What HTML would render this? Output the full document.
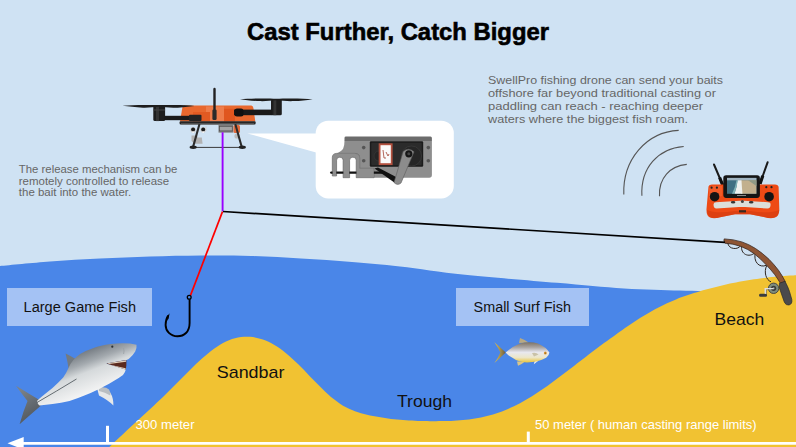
<!DOCTYPE html>
<html><head><meta charset="utf-8">
<style>
html,body{margin:0;padding:0;}
body{width:796px;height:447px;overflow:hidden;background:#cfe2f3;position:relative;font-family:"Liberation Sans",sans-serif;}
svg{position:absolute;left:0;top:0;}
</style></head><body>
<svg width="796" height="447" viewBox="0 0 796 447">
<!-- WATER -->
<path d="M-2.0,266.3 C-1.7,266.3 -8.7,266.9 0.0,266.1 C8.7,265.3 33.3,262.9 50.0,261.6 C66.7,260.4 83.3,259.4 100.0,258.6 C116.7,257.8 133.2,257.1 150.0,256.6 C166.8,256.1 184.2,255.7 201.0,255.6 C217.8,255.5 234.3,255.5 251.0,256.0 C267.7,256.5 284.2,257.6 301.0,258.6 C317.8,259.6 335.5,260.7 352.0,262.0 C368.5,263.3 381.2,264.4 400.0,266.5 C418.8,268.6 438.8,272.1 465.0,274.8 C491.2,277.5 530.5,280.5 557.0,282.8 C583.5,285.1 603.5,287.2 624.0,288.5 C644.5,289.8 664.0,290.1 680.0,290.6 C696.0,291.1 713.3,291.3 720.0,291.4 L800,291.4 L800,450 L-2,450 Z" fill="#4a86e8"/>
<!-- SAND -->
<path d="M106.0,450.2 C107.0,449.3 110.0,446.3 112.0,444.4 C114.0,442.5 116.0,440.6 118.0,438.8 C120.0,436.9 122.0,435.0 124.0,433.2 C126.0,431.3 128.0,429.5 130.0,427.6 C132.0,425.8 134.0,424.0 136.0,422.1 C138.0,420.3 140.0,418.5 142.0,416.6 C144.0,414.8 146.0,413.0 148.0,411.1 C150.0,409.2 152.0,407.4 154.0,405.5 C156.0,403.6 158.0,401.7 160.0,399.8 C162.0,397.9 164.0,396.0 166.0,394.0 C168.0,392.1 170.0,390.1 172.0,388.1 C174.0,386.1 176.0,384.0 178.0,382.0 C180.0,379.9 182.0,377.9 184.0,375.9 C186.0,373.9 188.0,371.8 190.0,369.9 C192.0,367.9 194.0,365.9 196.0,364.0 C198.0,362.1 200.0,360.3 202.0,358.5 C204.0,356.7 206.0,355.0 208.0,353.4 C210.0,351.8 212.0,350.2 214.0,348.8 C216.0,347.4 218.0,346.0 220.0,344.8 C222.0,343.6 224.0,342.5 226.0,341.6 C228.0,340.6 230.0,339.8 232.0,339.1 C234.0,338.5 236.0,337.9 238.0,337.5 C240.0,337.1 242.0,336.9 244.0,336.8 C246.0,336.7 248.0,336.7 250.0,336.8 C252.0,337.0 254.0,337.2 256.0,337.7 C258.0,338.1 260.0,338.6 262.0,339.3 C264.0,339.9 266.0,340.7 268.0,341.6 C270.0,342.6 272.0,343.6 274.0,344.8 C276.0,345.9 278.0,347.2 280.0,348.6 C282.0,350.0 284.0,351.5 286.0,353.2 C288.0,354.8 290.0,356.6 292.0,358.4 C294.0,360.2 296.0,362.1 298.0,364.1 C300.0,366.1 302.0,368.1 304.0,370.1 C306.0,372.2 308.0,374.3 310.0,376.4 C312.0,378.4 314.0,380.5 316.0,382.5 C318.0,384.6 320.0,386.6 322.0,388.5 C324.0,390.5 326.0,392.4 328.0,394.2 C330.0,396.0 332.0,397.7 334.0,399.3 C336.0,400.9 338.0,402.4 340.0,403.7 C342.0,405.0 344.0,406.2 346.0,407.3 C348.0,408.3 350.0,409.2 352.0,410.1 C354.0,410.9 356.0,411.6 358.0,412.3 C360.0,412.9 362.0,413.5 364.0,414.0 C366.0,414.5 368.0,415.0 370.0,415.4 C372.0,415.8 374.0,416.2 376.0,416.6 C378.0,417.0 380.0,417.3 382.0,417.6 C384.0,418.0 386.0,418.2 388.0,418.5 C390.0,418.8 392.0,419.0 394.0,419.2 C396.0,419.4 398.0,419.6 400.0,419.8 C402.0,420.0 404.0,420.1 406.0,420.3 C408.0,420.4 410.0,420.5 412.0,420.6 C414.0,420.7 416.0,420.8 418.0,420.9 C420.0,421.0 422.0,421.0 424.0,421.1 C426.0,421.1 428.0,421.1 430.0,421.2 C432.0,421.2 434.0,421.2 436.0,421.2 C438.0,421.2 440.0,421.2 442.0,421.1 C444.0,421.1 446.0,421.1 448.0,421.0 C450.0,420.9 452.0,420.8 454.0,420.7 C456.0,420.6 458.0,420.5 460.0,420.3 C462.0,420.1 464.0,419.9 466.0,419.7 C468.0,419.5 470.0,419.2 472.0,418.9 C474.0,418.6 476.0,418.3 478.0,417.9 C480.0,417.6 482.0,417.2 484.0,416.7 C486.0,416.2 488.0,415.8 490.0,415.2 C492.0,414.7 494.0,414.1 496.0,413.4 C498.0,412.8 500.0,412.1 502.0,411.4 C504.0,410.6 506.0,409.8 508.0,409.0 C510.0,408.1 512.0,407.2 514.0,406.3 C516.0,405.3 518.0,404.3 520.0,403.2 C522.0,402.1 524.0,401.0 526.0,399.8 C528.0,398.6 530.0,397.4 532.0,396.2 C534.0,394.9 536.0,393.6 538.0,392.3 C540.0,391.0 542.0,389.6 544.0,388.2 C546.0,386.8 548.0,385.4 550.0,383.9 C552.0,382.5 554.0,381.0 556.0,379.6 C558.0,378.1 560.0,376.6 562.0,375.1 C564.0,373.5 566.0,372.0 568.0,370.5 C570.0,368.9 572.0,367.4 574.0,365.9 C576.0,364.3 578.0,362.8 580.0,361.3 C582.0,359.7 584.0,358.2 586.0,356.7 C588.0,355.1 590.0,353.6 592.0,352.1 C594.0,350.6 596.0,349.1 598.0,347.6 C600.0,346.1 602.0,344.6 604.0,343.1 C606.0,341.7 608.0,340.2 610.0,338.7 C612.0,337.3 614.0,335.8 616.0,334.4 C618.0,333.0 620.0,331.6 622.0,330.2 C624.0,328.8 626.0,327.4 628.0,326.0 C630.0,324.7 632.0,323.3 634.0,322.0 C636.0,320.7 638.0,319.4 640.0,318.1 C642.0,316.8 644.0,315.6 646.0,314.4 C648.0,313.2 650.0,312.0 652.0,310.9 C654.0,309.8 656.0,308.7 658.0,307.7 C660.0,306.6 662.0,305.6 664.0,304.7 C666.0,303.7 668.0,302.8 670.0,301.9 C672.0,301.1 674.0,300.2 676.0,299.4 C678.0,298.6 680.0,297.8 682.0,297.1 C684.0,296.4 686.0,295.7 688.0,295.0 C690.0,294.3 692.0,293.6 694.0,293.0 C696.0,292.4 698.0,291.8 700.0,291.2 C702.0,290.6 704.0,290.0 706.0,289.5 C708.0,288.9 710.0,288.4 712.0,287.9 C714.0,287.4 716.0,286.9 718.0,286.4 C720.0,285.9 722.0,285.4 724.0,285.0 C726.0,284.5 728.0,284.1 730.0,283.6 C732.0,283.2 734.0,282.8 736.0,282.4 C738.0,282.0 740.0,281.6 742.0,281.3 C744.0,280.9 746.0,280.6 748.0,280.2 C750.0,279.9 752.0,279.6 754.0,279.3 C756.0,279.0 758.0,278.7 760.0,278.4 C762.0,278.2 764.0,277.9 766.0,277.7 C768.0,277.4 770.0,277.2 772.0,277.0 C774.0,276.8 776.0,276.6 778.0,276.5 C780.0,276.3 782.0,276.1 784.0,276.0 C786.0,275.8 788.0,275.7 790.0,275.6 C792.0,275.5 795.0,275.4 796.0,275.3 L800,450 L106,450 Z" fill="#f1c232"/>
<!-- LABEL BOXES -->
<rect x="7" y="288" width="145" height="38" fill="#a4c2f4"/>
<rect x="456" y="288" width="133" height="38" fill="#a4c2f4"/>
<!-- TEXT -->
<g font-family="Liberation Sans, sans-serif">
<text x="247" y="40.2" font-size="24.5" font-weight="bold" fill="#000" stroke="#000" stroke-width="0.6" textLength="302" lengthAdjust="spacingAndGlyphs">Cast Further, Catch Bigger</text>
<g fill="#666" font-size="10.3">
<text x="18.8" y="173.0" textLength="158.5" lengthAdjust="spacingAndGlyphs">The release mechanism can be</text>
<text x="18.8" y="184.6" textLength="150.4" lengthAdjust="spacingAndGlyphs">remotely controlled to release</text>
<text x="18.8" y="196.3" textLength="112.4" lengthAdjust="spacingAndGlyphs">the bait into the water.</text>
</g>
<g fill="#666" font-size="11.8">
<text x="488" y="84.1" textLength="235" lengthAdjust="spacingAndGlyphs">SwellPro fishing drone can send your baits</text>
<text x="488" y="96.8" textLength="228" lengthAdjust="spacingAndGlyphs">offshore far beyond traditional casting or</text>
<text x="488" y="109.6" textLength="215.1" lengthAdjust="spacingAndGlyphs">paddling can reach - reaching deeper</text>
<text x="488" y="123.3" textLength="200" lengthAdjust="spacingAndGlyphs">waters where the biggest fish roam.</text>
</g>
<g fill="#111" font-size="14">
<text x="23.6" y="312.2" textLength="112.4" lengthAdjust="spacingAndGlyphs">Large Game Fish</text>
<text x="473.6" y="312" textLength="97.4" lengthAdjust="spacingAndGlyphs">Small Surf Fish</text>
</g>
<g fill="#111" font-size="16.4">
<text x="216.8" y="378" textLength="67.6" lengthAdjust="spacingAndGlyphs">Sandbar</text>
<text x="397" y="406.7" textLength="55" lengthAdjust="spacingAndGlyphs">Trough</text>
<text x="714.6" y="324.7" textLength="49.6" lengthAdjust="spacingAndGlyphs">Beach</text>
</g>
<g fill="#fff" font-size="12.6">
<text x="135.5" y="429.3" textLength="59" lengthAdjust="spacingAndGlyphs">300 meter</text>
<text x="535" y="429.3" textLength="221.7" lengthAdjust="spacingAndGlyphs">50 meter ( human casting range limits)</text>
</g>
</g>
<!-- DISTANCE ARROW -->
<line x1="20" y1="443.4" x2="800" y2="443.4" stroke="#fff" stroke-width="2.6"/>
<polygon points="7.5,443.3 23.7,437 23.7,449.6" fill="#fff"/>
<rect x="106" y="425.8" width="3" height="17" fill="#fff"/>
<rect x="526.8" y="431.6" width="3" height="12" fill="#fff"/>
<!-- SIGNAL ARCS -->
<g fill="none" stroke="#555" stroke-width="1.1">
<path d="M623.8,194.6 C622.5,160 646,132 678.7,130.4"/>
<path d="M641.9,195.7 C640.5,168 658,148.5 683.7,146.5"/>
<path d="M659.5,196.2 C658.5,178 670,166 686.8,164.4"/>
</g>
<!-- CONTROLLER -->
<g id="ctrl">
<line x1="714" y1="164.5" x2="722.5" y2="184.5" stroke="#1a1a1a" stroke-width="2" stroke-linecap="round"/>
<line x1="719.6" y1="177.5" x2="722.6" y2="185" stroke="#111" stroke-width="3.2"/>
<line x1="767.6" y1="162.3" x2="760.2" y2="183" stroke="#1a1a1a" stroke-width="2" stroke-linecap="round"/>
<line x1="762.8" y1="175.8" x2="760" y2="184" stroke="#111" stroke-width="3.2"/>
<path d="M708.5,186.5 Q709,184.4 712,184.4 L725,184.4 L759,184.4 L775,184.4 Q778.3,184.4 778.6,187 L779.3,209 Q779.5,216 775,217.6 Q770.5,219 765,217.2 L750,214.2 L735,214.2 L720,217.2 Q714.5,219 710,217.6 Q706.2,216 706.5,209 Z" fill="#ee4a15"/>
<path d="M707,210 Q707.5,216 711,217.6 Q715,218.8 720,217.2 L735,214.2 L750,214.2 L765,217.2 Q770.5,218.8 774.5,217.6 Q778.8,216 779.2,210 Q770,214 750,211 L735,211 Q716,214 707,210 Z" fill="#d63c10" opacity="0.7"/>
<path d="M709,188 L712,186 L722,186 L722,196 L709,200 Z" fill="#f46a3a" opacity="0.5"/>
<rect x="723.3" y="175.2" width="36.6" height="22.7" rx="2.8" fill="#151515"/>
<rect x="727" y="177.9" width="29.4" height="15.9" fill="#3f6f82"/>
<rect x="727" y="177.9" width="29.4" height="2.4" fill="#9fb3c0"/>
<path d="M740.5,180.3 L756.4,180.3 L756.4,193.8 L741,193.8 Q741,187 740.5,180.3 Z" fill="#c2b08e"/>
<path d="M748,180.3 L756.4,180.3 L756.4,186 Q752,183 748,180.3 Z" fill="#8f9a86"/>
<path d="M737.5,180.3 L741.5,180.3 Q741.8,187 742.5,193.8 L734.5,193.8 Q737,187 737.5,180.3 Z" fill="#eef0ee"/>
<path d="M736.5,180.3 L737.8,180.3 Q737,187 734.5,193.8 L732,193.8 Q735.5,187 736.5,180.3 Z" fill="#7fb0b5"/>
<rect x="737" y="195" width="9" height="1" fill="#888"/>
<path d="M713.5,204.5 Q713.5,202.2 716,202.2 L740,200.8 L744,200.8 L768,202.2 Q770.6,202.2 770.6,204.5 Q770.6,208.6 767.5,208.6 L745,207 L739,207 L716.5,208.6 Q713.5,208.6 713.5,204.5 Z" fill="#dcdfda"/>
<circle cx="714.6" cy="196.7" r="4.8" fill="#141414"/>
<circle cx="769.1" cy="196.7" r="4.8" fill="#141414"/>
<ellipse cx="733.1" cy="202.2" rx="2.3" ry="1.2" fill="#333"/>
<ellipse cx="751.2" cy="202.2" rx="2.3" ry="1.2" fill="#333"/>
<circle cx="742.4" cy="201.6" r="1.5" fill="#444"/>
<circle cx="711.6" cy="187.7" r="1.1" fill="#222"/>
<circle cx="716.9" cy="187.7" r="1.1" fill="#222"/>
<circle cx="766.3" cy="187.2" r="1.1" fill="#222"/>
<circle cx="771.5" cy="187.2" r="1.1" fill="#222"/>
<rect x="739" y="210.2" width="7" height="2.2" fill="#3a2a20"/>
</g>
<!-- ROD -->
<g id="rod">
<g fill="none" stroke="#2e2622" stroke-width="1">
<path d="M727.7,242.8 C728.5,249.8 738.5,250 740.8,245.4"/>
<path d="M741.8,245.6 C740,254 749,258.5 755.3,252.4"/>
<path d="M755.4,252.5 C753,261.5 759,268.5 766.6,265.2"/>
<path d="M766.8,265.4 C763.5,272 766,280 771,281.8"/>
</g>
<path d="M724.2,238.9 Q733,239.2 741.8,241.9 Q749,244.3 755.5,248.5 Q762.8,253.3 769,259.3 Q774.5,265 778.5,270.3 Q782.5,276 785.3,281.6 L780.6,283.6 Q777.8,278.8 774.8,274.7 Q771,269.8 766.4,265 Q760.5,258.5 753.8,253.4 Q748,249 740.8,246.4 Q733,243.6 725,243.2 Q723.3,241 724.2,238.9 Z" fill="#8e5534" stroke="#3a2a22" stroke-width="0.8"/>
<path d="M779.4,283.2 L785,281.3 Q788,287 789.5,291.5 L791.8,299.5 Q792.5,304 789,305 Q785.8,305.7 784.3,302 L779.4,288 Z" fill="#4a4a4c" stroke="#2a2a2a" stroke-width="0.7"/>
<path d="M773.6,288.6 L765.4,288.6 L765.4,293.8" fill="none" stroke="#ddd" stroke-width="1.3"/>
<path d="M773.6,289.6 L766.4,289.6 L766.4,293.8" fill="none" stroke="#666" stroke-width="0.7"/>
<rect x="759.1" y="293.8" width="7.9" height="3" rx="1.3" fill="#3c3c3c"/>
<circle cx="773.6" cy="288.3" r="5.2" fill="#7d8b7a" stroke="#3e3e3e" stroke-width="0.9"/>
<circle cx="773.6" cy="288.3" r="2.6" fill="#3a3a3a"/>
<circle cx="773.6" cy="288.3" r="1" fill="#8a9a90"/>
<path d="M773.6,288.6 L765.4,288.6 L765.4,293.8" fill="none" stroke="#ddd" stroke-width="1.3"/>
</g>
<!-- CALLOUT -->
<g id="callout">
<rect x="315.7" y="120.7" width="138.1" height="77.7" rx="12.5" fill="#fff"/>
<polygon points="247.4,133.4 317,133.4 317,152.8" fill="#fff"/>
<!-- plate -->
<path d="M344.5,140.8 L431.9,140.8 L431.9,175 Q431.9,177.7 429.2,177.7 L374.1,177.7 L374.1,168.3 L359.7,168.3 L359.7,158 Q359.5,154.5 355,153.6 L336,153.4 Q341.5,151.8 343.2,148.5 Q344.5,146 344.5,140.8 Z" fill="#8e8e8e"/>
<path d="M344.5,137.8 Q344.5,136.5 346,136.5 L430.5,136.5 Q431.9,136.5 431.9,138 L431.9,141 L344.5,141 Z" fill="#6c6c6c"/>
<!-- fork -->
<path d="M332.3,176 L332.3,157.5 Q332.3,153.6 336.5,153.4 L355,153.4 Q359.7,153.6 359.7,158 L359.7,168.3 L374.1,168.3 L374.1,177.7 L356.2,177.7 L356.2,160.2 Q356.2,157.2 352.9,157.2 Q349.6,157.2 349.6,160.2 L349.6,177.7 L343.1,177.7 L343.1,160.2 Q343.1,157.2 339.85,157.2 Q336.6,157.2 336.6,160.2 L336.6,176 Z" fill="#8e8e8e" stroke="#5a5a5a" stroke-width="0.6"/>
<!-- rod -->
<line x1="331.3" y1="172.6" x2="383" y2="172.6" stroke="#111" stroke-width="2.4" stroke-linecap="round"/>
<rect x="332.6" y="170.6" width="3.7" height="5.2" fill="#8e8e8e"/>
<rect x="343.4" y="170.6" width="5.9" height="6.8" fill="#8e8e8e"/>
<rect x="356.5" y="170.6" width="17.3" height="6.8" fill="#8e8e8e"/>
<!-- holes -->
<circle cx="363.7" cy="147.6" r="1.8" fill="#555"/>
<circle cx="363.7" cy="160.8" r="1.8" fill="#555"/>
<circle cx="428.3" cy="147.6" r="1.8" fill="#555"/>
<circle cx="428.3" cy="160.8" r="1.8" fill="#555"/>
<!-- servo -->
<rect x="369.8" y="141.3" width="53.4" height="25.5" rx="1.2" fill="#1b1b1b"/>
<rect x="371.3" y="142.8" width="50.4" height="22.5" rx="1" fill="#2b2b2b"/>
<circle cx="411.5" cy="156" r="10" fill="#262626" stroke="#3a3a3a" stroke-width="0.8"/>
<circle cx="379" cy="156" r="5" fill="#252525" stroke="#3a3a3a" stroke-width="0.6"/>
<rect x="378.7" y="143.3" width="13.9" height="21.8" fill="#b3513f"/>
<rect x="380.5" y="145.2" width="10.3" height="18" fill="#fafafa"/>
<path d="M383,150 L384,158 L386,158 M386,152 L388,156 L389,154" stroke="#a04030" stroke-width="0.8" fill="none"/>
<!-- link -->
<path d="M374.5,168.5 L378,167.5 L398,178 L395,183 Z" fill="#111"/>
<!-- arm -->
<path d="M403.2,151.5 Q408.8,146.8 414,151.8 L401,183 Q397.5,186 394,182.5 Z" fill="#8c8c8c" stroke="#5d5d5d" stroke-width="0.6"/>
<circle cx="408.8" cy="153.8" r="3.6" fill="#151515"/>
<circle cx="408.8" cy="153.8" r="1.5" fill="#444"/>
</g>
<!-- DRONE -->
<g id="drone">
<!-- left motor -->
<rect x="153.3" y="105.5" width="11.8" height="15.6" rx="1.5" fill="#1e1e1e"/>
<rect x="156" y="105.5" width="3" height="15.6" fill="#3a3a3a" opacity="0.8"/>
<rect x="153.3" y="109.5" width="11.8" height="1" fill="#444"/>
<!-- right motor -->
<rect x="271" y="99" width="10.8" height="16.2" rx="1.5" fill="#1e1e1e"/>
<rect x="273.5" y="99" width="2.8" height="16.2" fill="#3a3a3a" opacity="0.8"/>
<!-- body -->
<path d="M184.3,105.6 L251.3,105.6 Q253,106 253.4,108 L255.3,121.4 L179.9,121.4 L182.4,107.6 Q183,105.8 184.3,105.6 Z" fill="#e8682e"/>
<rect x="206" y="106.5" width="18" height="14.5" fill="#ef8252" opacity="0.8"/>
<rect x="193" y="112" width="17" height="9.3" fill="#e25a22"/>
<rect x="224" y="108.8" width="11" height="12.5" fill="#e0561f"/>
<rect x="179.6" y="121.2" width="76" height="3.2" rx="1" fill="#262626"/>
<rect x="181" y="123.5" width="73" height="1.2" fill="#777"/>
<!-- left arm -->
<rect x="164" y="115.8" width="32" height="4.4" fill="#1a1a1a"/>
<rect x="189" y="114.8" width="12.5" height="6.2" rx="1" fill="#222"/>
<!-- right arm -->
<rect x="234" y="109.6" width="38" height="5.6" fill="#1a1a1a"/>
<rect x="234.5" y="108.4" width="9" height="8" rx="2.5" fill="#111"/>
<!-- props -->
<path d="M122.4,105.8 C128,105.3 136,104.9 145,104.9 C151,104.9 156,105 159,105.1 C163,105 168,104.9 174,104.9 C183,104.9 190,105.3 194.6,105.9 C188,106.3 183,107.4 175,107.7 C169,107.9 164,107 159,106.8 C154,107 149,107.9 143,107.7 C135,107.4 129,106.3 122.4,105.8 Z" fill="#1d1d1d"/>
<path d="M240,99.4 C246,98.9 254,98.5 262,98.5 C268,98.5 273,98.6 276.4,98.7 C280,98.6 285,98.5 291,98.5 C300,98.5 307,98.9 312.7,99.4 C306,99.9 301,100.9 293,101.1 C287,101.3 281,100.5 276.4,100.3 C271,100.5 266,101.3 260,101.1 C252,100.9 246,99.9 240,99.4 Z" fill="#1d1d1d"/>
<!-- antenna -->
<rect x="213.3" y="87.8" width="2.4" height="24" rx="1.2" fill="#222"/>
<rect x="212.4" y="109.5" width="4.2" height="10.6" rx="1.3" fill="#2a2a2a"/>
<!-- under parts -->
<rect x="218.5" y="124.6" width="14.8" height="8" fill="#7a7a7a"/>
<rect x="219.6" y="126.3" width="12.6" height="4.6" fill="#a3a3a3" stroke="#4a4a4a" stroke-width="0.6"/>
<rect x="233.5" y="125" width="6.5" height="8" rx="1.5" fill="#e06a3a"/>
<circle cx="237" cy="136" r="2.6" fill="#bbb"/>
<circle cx="193.1" cy="129.8" r="2.8" fill="#d0d0d0"/>
<circle cx="203.2" cy="129.8" r="2.8" fill="#d0d0d0"/>
<circle cx="193.1" cy="129.6" r="2" fill="#1c1c1c"/>
<circle cx="203.2" cy="129.6" r="2" fill="#1c1c1c"/>
<circle cx="193.1" cy="132.2" r="0.9" fill="#f4f4f4"/>
<circle cx="203.2" cy="132.2" r="0.9" fill="#f4f4f4"/>
<path d="M191.5,135.5 L197,135.5 L197.5,137.5 L201.8,137.5 L202.6,143.8 L194.5,143.8 L191.5,141 Z" fill="#b3b3b3"/>
<line x1="206" y1="126" x2="206" y2="131" stroke="#ccc" stroke-width="0.6"/>
<!-- legs -->
<line x1="199.5" y1="124" x2="193.2" y2="146.5" stroke="#2c2c2c" stroke-width="2.1"/>
<line x1="235.3" y1="124" x2="241.6" y2="146.5" stroke="#2c2c2c" stroke-width="2.1"/>
<line x1="193" y1="147.4" x2="242.5" y2="147.4" stroke="#3a3a3a" stroke-width="1"/>
<ellipse cx="193.2" cy="147.3" rx="3.6" ry="1.7" fill="#222"/>
<ellipse cx="242.3" cy="147.3" rx="3.6" ry="1.7" fill="#222"/>
</g>
<!-- SHARK -->
<defs>
<linearGradient id="shg" x1="82" y1="350" x2="98" y2="392" gradientUnits="userSpaceOnUse">
<stop offset="0" stop-color="#6e757c"/>
<stop offset="0.3" stop-color="#a3a9ae"/>
<stop offset="0.5" stop-color="#d5d9db"/>
<stop offset="1" stop-color="#f6f6f6"/>
</linearGradient>
<linearGradient id="shg2" x1="20" y1="390" x2="40" y2="420" gradientUnits="userSpaceOnUse">
<stop offset="0" stop-color="#7b8288"/>
<stop offset="1" stop-color="#4c5258"/>
</linearGradient>
<linearGradient id="fig" x1="0" y1="0" x2="0" y2="1">
<stop offset="0" stop-color="#7d7264"/>
<stop offset="0.25" stop-color="#a9a4a2"/>
<stop offset="0.5" stop-color="#e8e8ef"/>
<stop offset="0.75" stop-color="#ece6c8"/>
<stop offset="1" stop-color="#e9c43a"/>
</linearGradient>
<linearGradient id="ftg" x1="0" y1="0" x2="1" y2="0">
<stop offset="0" stop-color="#e6c44a"/>
<stop offset="1" stop-color="#6a5c48"/>
</linearGradient>
</defs>
<g id="shark">
<!-- tail -->
<path d="M39,399.8 Q31,395 16,385.8 Q21,393 27.5,401 Q23,412 19.6,424.3 Q30,415 40.5,406 Z" fill="url(#shg2)"/>
<!-- dorsal fin -->
<path d="M65.6,353.4 Q71,356 76.5,359.5 L69,371 Q67.5,361 65.6,353.4 Z" fill="#737a80"/>
<!-- pectoral fin -->
<path d="M97,388 Q106,388.5 110.5,393 Q113.5,398 113.4,405.5 Q108,400 99,395.5 Z" fill="#e6e8e9"/>
<path d="M99,387.5 Q106,386.5 109,389.5 Q111,392.5 110.3,395.5 Q105,392 99,391 Z" fill="#b9bec2"/>
<!-- body -->
<path d="M136.5,344.7 Q126,342.3 111,344 Q100,345.5 93.6,348 Q86,350.5 80.1,354.1 Q76,357 73.4,360.1 Q70,364 68,368.9 Q66,373.5 63.2,377.5 Q58,383 52.5,388.1 Q47,392.5 41.9,396.6 Q39,399 37,401 Q37.5,404 39.5,405.5 Q46,405 52.5,404.1 Q61,403 69.5,400.9 Q77,398.8 84.4,395.6 Q91,393 97,390 Q101,388.2 104.3,386.3 Q109,384 113.7,381 Q119,378 123,375 Q125.2,372.5 125.8,369.5 L106.3,363.5 L126.4,360.1 Q128.5,359.5 129.8,358.1 Q133,355 135.2,351.4 Q137,348 136.5,344.7 Z" fill="url(#shg)"/>
<path d="M37,402.5 Q56,391.5 76.5,379" stroke="#4e565c" stroke-width="1" fill="none" opacity="0.85"/>
<!-- mouth -->
<path d="M106.3,363.5 L126.4,360.1 Q126.6,365 125.8,369.5 Z" fill="#5b2a1e"/>
<path d="M107.5,363.2 L126.2,360.3 L126.1,361.8 L109,364 Z" fill="#e2d2bf"/>
<path d="M109,364.4 L125.6,368.2 L125.6,369.4 L108,364.2 Z" fill="#e2d2bf"/>
<circle cx="112.3" cy="346.7" r="1.1" fill="#2a3035"/>
<path d="M123.5,348 Q124.5,351 123.6,354" stroke="#9aa0a5" stroke-width="0.8" fill="none"/>
</g>
<!-- FISH -->
<g id="fish">
<path d="M505.8,352.6 L494.4,342.2 Q498.5,348 500.4,352.6 Q498.5,357.5 494.4,363 Z" fill="url(#ftg)"/>
<path d="M519,343 L520,338 Q525,339.5 528.5,342.5 Z" fill="#b9a982"/>
<path d="M517,361.5 L518,365.8 Q522,364.2 525,361.5 Z" fill="#d8c58a"/>
<path d="M534.6,361 L533.8,364.3 L538,361 Z" fill="#eee"/>
<path d="M505.6,352.6 Q512,346.5 520,343.4 Q530,341 538,343.5 Q546,347 549.4,352.5 Q549.2,355.6 546.2,357.8 Q538,362.3 527,362.5 Q518,362 512,357.5 Q508,355.5 505.6,352.6 Z" fill="url(#fig)"/>
<path d="M532,353 Q536,352 538.5,354.5 L534,356.5 Z" fill="#c9c2a8"/>
<circle cx="545.3" cy="353.1" r="1.5" fill="#e89a2c"/>
<circle cx="545.3" cy="353.1" r="0.6" fill="#553"/>
</g>
<!-- LINES -->
<line x1="222.6" y1="132.3" x2="222.6" y2="211.3" stroke="#9900ff" stroke-width="1.9"/>
<line x1="222.5" y1="211.6" x2="190.4" y2="295.6" stroke="#ff0000" stroke-width="1.7"/>
<line x1="223" y1="211.5" x2="725" y2="242.3" stroke="#000" stroke-width="1.7"/>
<!-- HOOK -->
<circle cx="189.2" cy="297.2" r="1.9" fill="none" stroke="#000" stroke-width="1.3"/>
<path d="M189.6,299.2 L189.6,323 C189.6,332 184,336.3 177.5,336.3 C170.5,336.3 165.6,331 165.6,325 C165.6,320.5 166.8,317.5 168.2,315.5" fill="none" stroke="#000" stroke-width="1.9"/>
<path d="M169.6,313.3 L167.2,316.2 L167.2,321 L168.6,318.6 Z" fill="#000"/>
</svg>
</body></html>
